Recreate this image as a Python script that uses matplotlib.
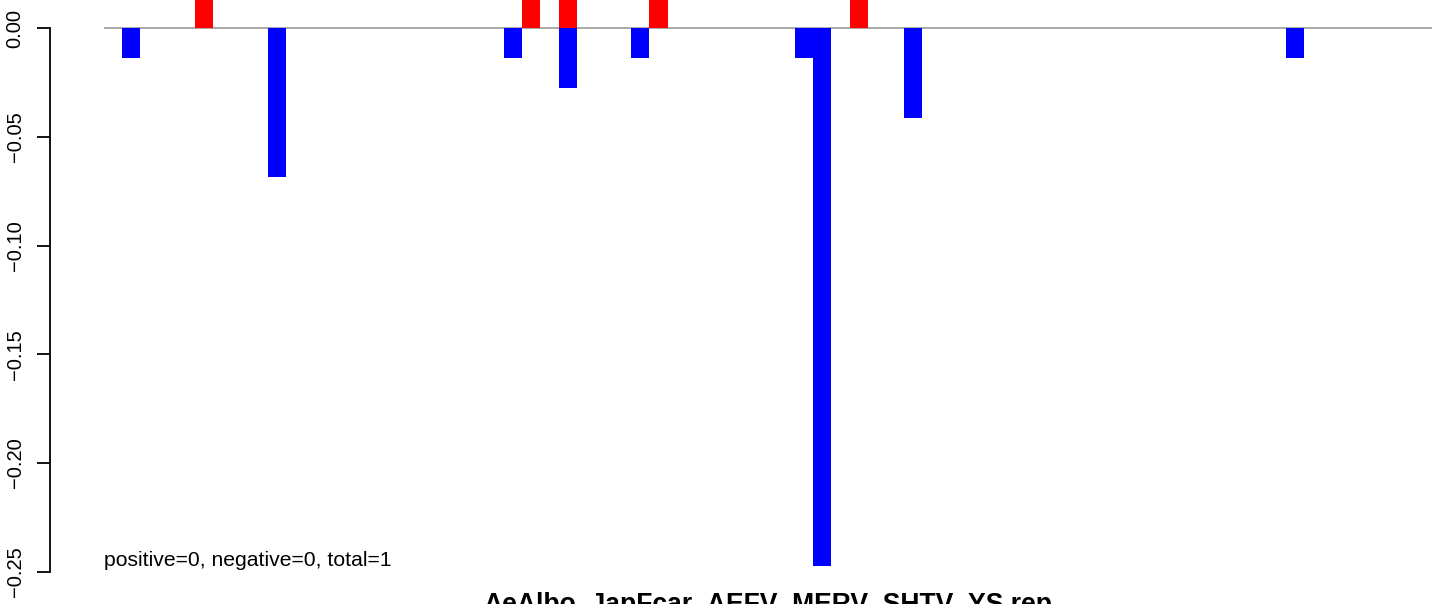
import matplotlib
matplotlib.use("Agg")
import matplotlib.pyplot as plt

plt.rcParams['font.family'] = ['Liberation Sans', 'DejaVu Sans']

# bar slot positions (index along the sample axis) and values
pos_slots = [4, 22, 24, 29, 40]
pos_values = [0.0135, 0.0135, 0.0135, 0.0135, 0.0135]
neg_slots = [0, 8, 21, 24, 28, 37, 38, 43, 64]
neg_values = [-0.0135, -0.0683, -0.0135, -0.0273, -0.0135, -0.0135, -0.2472, -0.0411, -0.0135]
yticks = [0.00, -0.05, -0.10, -0.15, -0.20, -0.25]
ytick_labels = ["0.00", "\u22120.05", "\u22120.10", "\u22120.15", "\u22120.20", "\u22120.25"]
note = "positive=0, negative=0, total=1"
title = "AeAlbo_JapFcar_AEFV_MERV_SHTV_YS.rep"

W, H, DPI = 1444, 604, 100
fig = plt.figure(figsize=(W / DPI, H / DPI), dpi=DPI)

# pixel geometry of plot region
px_left, px_right = 104, 1432
y0_px, ymin_px = 28.3, 571.7  # pixel rows for 0.00 and -0.25
ppu = (ymin_px - y0_px) / 0.25
ylo, yhi = -0.26, 0.03
top_px = y0_px - yhi * ppu
bot_px = y0_px - ylo * ppu
ax = fig.add_axes([px_left / W, (H - bot_px) / H, (px_right - px_left) / W, (bot_px - top_px) / H])

slot = 18.1875
first_px = 122
ax.set_xlim((px_left - first_px) / slot, (px_right - first_px) / slot)
ax.set_ylim(ylo, yhi)

ax.bar(pos_slots, pos_values, width=1.0, align='edge', color='#ff0000', linewidth=0)
ax.bar(neg_slots, neg_values, width=1.0, align='edge', color='#0000ff', linewidth=0)
ax.axhline(0, color='#999999', linewidth=1.2, zorder=0.5)

for s in ['top', 'right', 'bottom']:
    ax.spines[s].set_visible(False)
ax.spines['left'].set_bounds(-0.25, 0.0)
ax.spines['left'].set_position(('outward', (px_left - 50) * 72 / DPI))
ax.spines['left'].set_linewidth(1.3)
ax.set_xticks([])
ax.set_yticks(yticks)
ax.set_yticklabels(ytick_labels, rotation=90, va='center', fontsize=14.5)
ax.tick_params(axis='y', length=13 * 72 / DPI, width=1.3, pad=9)

ax.text((px_left - first_px) / slot, min(neg_values), note, fontsize=15.2,
        ha='left', va='baseline')

fig.text((px_left + px_right) / 2 / W, (H - 612) / H, title, fontsize=19.1,
         fontweight='bold', ha='center', va='baseline')

fig.savefig("out.png", dpi=DPI)
